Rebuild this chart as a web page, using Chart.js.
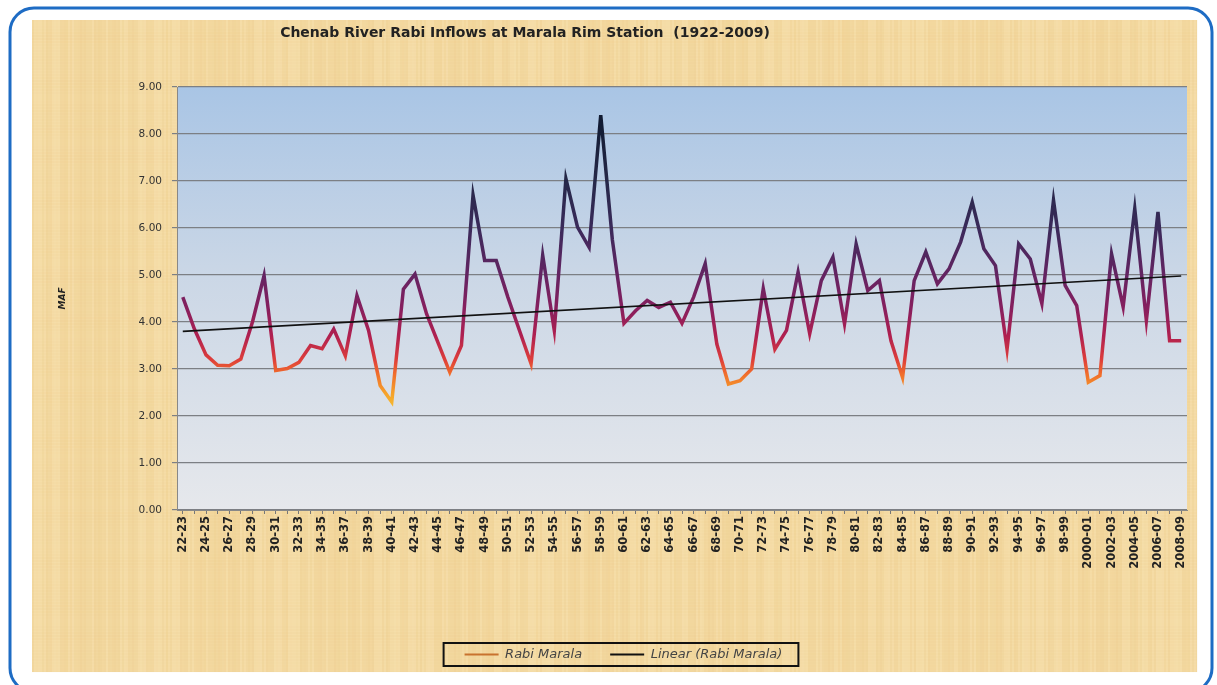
<!DOCTYPE html>
<html>
<head>
<meta charset="utf-8">
<script src="https://cdn.jsdelivr.net/npm/chart.js@4/dist/chart.umd.min.js"></script>
<style>
  html, body { margin: 0; padding: 0; background: #fff; }
  #wrap { width: 1217px; height: 685px; position: relative; }
</style>
</head>
<body>
<div id="wrap"><canvas id="inflowChart" width="1217" height="685"></canvas></div>
<script>
// ── Chenab Rabi inflows (MAF) at Marala, 1922-23 .. 2008-09 ──
const seasons = [
  '22-23','23-24','24-25','25-26','26-27','27-28','28-29','29-30','30-31','31-32',
  '32-33','33-34','34-35','35-36','36-37','37-38','38-39','39-40','40-41','41-42',
  '42-43','43-44','44-45','45-46','46-47','47-48','48-49','49-50','50-51','51-52',
  '52-53','53-54','54-55','55-56','56-57','57-58','58-59','59-60','60-61','61-62',
  '62-63','63-64','64-65','65-66','66-67','67-68','68-69','69-70','70-71','71-72',
  '72-73','73-74','74-75','75-76','76-77','77-78','78-79','79-80','80-81','81-82',
  '82-83','83-84','84-85','85-86','86-87','87-88','88-89','89-90','90-91','91-92',
  '92-93','93-94','94-95','95-96','96-97','97-98','98-99','99-2000','2000-01','2001-02',
  '2002-03','2003-04','2004-05','2005-06','2006-07','2007-08','2008-09'
];

const rabiMarala = [
  4.53, 3.85, 3.30, 3.08, 3.07, 3.21, 4.00, 4.99, 2.97, 3.01,
  3.14, 3.50, 3.43, 3.85, 3.28, 4.56, 3.82, 2.65, 2.30, 4.70,
  5.02, 4.17, 3.55, 2.93, 3.50, 6.70, 5.31, 5.31, 4.53, 3.82,
  3.11, 5.42, 3.82, 7.05, 6.02, 5.59, 8.40, 5.75, 3.97, 4.24,
  4.46, 4.31, 4.42, 3.97, 4.53, 5.24, 3.53, 2.68, 2.75, 3.00,
  4.71, 3.42, 3.82, 5.06, 3.75, 4.88, 5.38, 3.96, 5.66, 4.67,
  4.88, 3.60, 2.82, 4.88, 5.49, 4.81, 5.13, 5.70, 6.55, 5.56,
  5.20, 3.42, 5.66, 5.34, 4.39, 6.59, 4.78, 4.35, 2.72, 2.86,
  5.45, 4.32, 6.41, 4.03, 6.34, 3.60, 3.60
];

// trend line (first / last season)
const trendStart = 3.80;
const trendEnd = 4.98;

const yTicks = [0, 1, 2, 3, 4, 5, 6, 7, 8, 9];

const chartTitle = 'Chenab River Rabi Inflows at Marala Rim Station  (1922-2009)';

function inflowGradient(context) {
  const chart = context.chart;
  if (!chart.chartArea) return '#8a2060';
  const y = chart.scales.y;
  const top = y.getPixelForValue(9), bottom = y.getPixelForValue(0);
  const g = chart.ctx.createLinearGradient(0, top, 0, bottom);
  const stops = [[9, '#0c1528'], [8.2, '#121c34'], [7, '#262848'], [6, '#3a2a5a'],
                 [5, '#642462'], [4.3, '#861f5e'], [3.7, '#b02050'], [3.2, '#de3e3a'],
                 [2.9, '#f06c2c'], [2.5, '#f5a02a'], [2.1, '#f6c232'], [0, '#f6c232']];
  stops.forEach(([v, c]) => g.addColorStop((9 - v) / 9, c));
  return g;
}

// paper background, blue frame and plot gradient
const pageBackground = {
  id: 'pageBackground',
  beforeDraw(chart) {
    const ctx = chart.ctx;
    ctx.save();
    ctx.fillStyle = '#ffffff';
    ctx.fillRect(0, 0, chart.width, chart.height);

    // parchment
    const px = 32, py = 20, pw = 1165, ph = 652;
    ctx.fillStyle = '#f4dba4';
    ctx.fillRect(px, py, pw, ph);
    for (let x = px; x < px + pw; x += 2) {
      const a = 0.08 + 0.06 * Math.sin(x * 0.37) + 0.05 * Math.sin(x * 1.31 + 1) + 0.04 * Math.sin(x * 0.05);
      ctx.fillStyle = a > 0.1 ? `rgba(252,236,196,${a * 0.8})` : `rgba(230,186,112,${(0.18 - a) * 0.8})`;
      ctx.fillRect(x, py, 2, ph);
    }
    for (let y = py; y < py + ph; y += 3) {
      const a = 0.05 + 0.05 * Math.sin(y * 0.21) * Math.sin(y * 0.053);
      ctx.fillStyle = `rgba(236,192,120,${Math.max(0, a)})`;
      ctx.fillRect(px, y, pw, 2);
    }

    // rounded blue frame
    ctx.strokeStyle = '#1e6cc4';
    ctx.lineWidth = 3;
    ctx.beginPath();
    ctx.roundRect(10, 8, 1202, 684, 24);
    ctx.stroke();

    // plot area
    const a = chart.chartArea;
    const g = ctx.createLinearGradient(0, a.top, 0, a.bottom);
    g.addColorStop(0, '#a9c5e5');
    g.addColorStop(0.45, '#cbd7e6');
    g.addColorStop(1, '#e6e8ec');
    ctx.fillStyle = g;
    ctx.fillRect(a.left, a.top, a.right - a.left, a.bottom - a.top);
    ctx.restore();
  },
  afterDraw(chart) {
    // title sits left of the plot centre, as in the source sheet
    const ctx = chart.ctx;
    ctx.save();
    ctx.fillStyle = '#222';
    ctx.font = 'bold 14px "DejaVu Sans"';
    ctx.textAlign = 'center';
    ctx.textBaseline = 'middle';
    ctx.fillText(chartTitle, 525, 33);
    ctx.restore();
  }
};

// black frame round the legend
const legendFrame = {
  id: 'legendFrame',
  afterDraw(chart) {
    const boxes = chart.legend && chart.legend.legendHitBoxes;
    if (!boxes || !boxes.length) return;
    const left = Math.min(...boxes.map(b => b.left)) - 21;
    const right = Math.max(...boxes.map(b => b.left + b.width)) + 16;
    const top = Math.min(...boxes.map(b => b.top)) - 5;
    const bottom = Math.max(...boxes.map(b => b.top + b.height)) + 5;
    const ctx = chart.ctx;
    ctx.save();
    ctx.strokeStyle = '#111';
    ctx.lineWidth = 2;
    ctx.strokeRect(left, top, right - left, bottom - top);
    ctx.restore();
  }
};

const legendColors = ['#c8722e', '#111111'];

new Chart(document.getElementById('inflowChart'), {
  type: 'line',
  data: {
    labels: seasons,
    datasets: [
      {
        label: 'Rabi Marala',
        data: rabiMarala,
        borderColor: inflowGradient,
        borderWidth: 3.5,
        pointRadius: 0,
        tension: 0,
        fill: false,
        order: 1
      },
      {
        label: 'Linear (Rabi Marala)',
        data: [{ x: seasons[0], y: trendStart }, { x: seasons[seasons.length - 1], y: trendEnd }],
        borderColor: '#111111',
        borderWidth: 1.6,
        pointRadius: 0,
        fill: false,
        order: 0
      }
    ]
  },
  options: {
    responsive: false,
    animation: false,
    layout: { padding: { left: 60, right: 30, top: 87, bottom: 14 } },
    plugins: {
      title: { display: false },
      legend: {
        position: 'bottom',
        labels: {
          color: '#444',
          font: { family: 'DejaVu Sans', size: 13, style: 'italic' },
          boxWidth: 34,
          boxHeight: 2,
          padding: 28,
          sort: (a, b) => a.datasetIndex - b.datasetIndex,
          generateLabels: chart => Chart.defaults.plugins.legend.labels.generateLabels(chart).map(l => {
            l.fillStyle = legendColors[l.datasetIndex];
            l.strokeStyle = legendColors[l.datasetIndex];
            l.lineWidth = 0;
            return l;
          })
        }
      },
      tooltip: { enabled: false }
    },
    scales: {
      x: {
        type: 'category',
        offset: true,
        afterFit: scale => { scale.height = 110; },
        grid: { display: true, drawOnChartArea: false, tickLength: 4, color: '#777' },
        border: { color: '#888', width: 1 },
        ticks: {
          autoSkip: false,
          maxRotation: 90,
          minRotation: 90,
          padding: 2,
          color: '#222',
          font: { family: 'DejaVu Sans', size: 11.5, weight: 'bold' },
          callback: function (v, i) { return i % 2 === 0 ? seasons[i] : ''; }
        }
      },
      y: {
        min: 0,
        max: 9,
        afterFit: scale => { scale.width = 117; },
        afterBuildTicks: scale => { scale.ticks = yTicks.map(v => ({ value: v })); },
        title: {
          display: true,
          text: 'MAF',
          color: '#222',
          font: { family: 'DejaVu Sans', size: 9, weight: 'bold', style: 'italic' },
          padding: { top: -3, bottom: 0 }
        },
        grid: { color: '#7c7f84', lineWidth: 1.2, tickLength: 5 },
        border: { color: '#888', width: 1 },
        ticks: {
          padding: 10,
          color: '#333',
          font: { family: 'DejaVu Sans', size: 10.5 },
          callback: v => Number(v).toFixed(2)
        }
      }
    }
  },
  plugins: [pageBackground, legendFrame]
});
</script>
</body>
</html>
